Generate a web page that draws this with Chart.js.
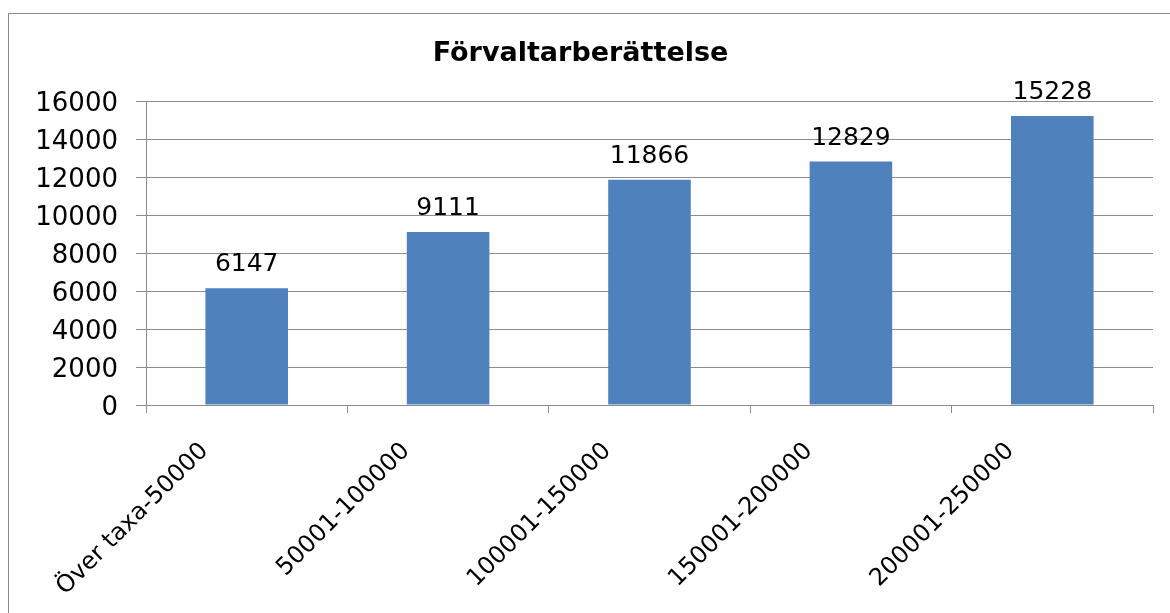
<!DOCTYPE html>
<html>
<head>
<meta charset="utf-8">
<script src="https://cdn.jsdelivr.net/npm/chart.js@4"></script>
<style>
  html, body { margin: 0; padding: 0; background: #fff; overflow: hidden; }
  #frame {
    position: absolute; left: 8px; top: 13px;
    width: 2000px; height: 2000px;
    border-left: 1px solid #8a8a8a; border-top: 1px solid #8a8a8a;
  }
  #wrap { position: absolute; left: 0; top: 0; width: 1170px; height: 613px; }
</style>
</head>
<body>
<div id="frame"></div>
<div id="wrap"><canvas id="chart" width="1170" height="613"></canvas></div>
<script>
// ===== DATA =====
const categories = ["Över taxa-50000", "50001-100000", "100001-150000", "150001-200000", "200001-250000"];
const values = [6147, 9111, 11866, 12829, 15228];
const yTicks = [0, 2000, 4000, 6000, 8000, 10000, 12000, 14000, 16000];

const FONT = "'DejaVu Sans', sans-serif";
const GRID = "#8c8c8c";

// ===== VALUE LABELS ABOVE BARS =====
const valueLabels = {
  id: "valueLabels",
  afterDatasetsDraw(chart) {
    const ctx = chart.ctx;
    const meta = chart.getDatasetMeta(0);
    ctx.save();
    ctx.font = "25px " + FONT;
    ctx.fillStyle = "#000";
    ctx.textAlign = "center";
    ctx.textBaseline = "alphabetic";
    meta.data.forEach((bar, i) => {
      ctx.fillText(String(values[i]), bar.x, bar.y - 17);
    });
    ctx.restore();
  }
};

// ===== CHART =====
const ctx = document.getElementById("chart").getContext("2d");

new Chart(ctx, {
  type: "bar",
  data: {
    labels: categories,
    datasets: [{
      data: values,
      backgroundColor: "#4F81BD",
      categoryPercentage: 1,
      barPercentage: 0.41
    }]
  },
  options: {
    responsive: false,
    animation: false,
    layout: { padding: { left: 8, right: 17, top: 13, bottom: 0 } },
    plugins: {
      legend: { display: false },
      tooltip: { enabled: false },
      title: {
        display: true,
        text: "Förvaltarberättelse",
        color: "#000",
        font: { family: FONT, size: 27, weight: "bold" },
        padding: { top: 25, bottom: 31 }
      }
    },
    scales: {
      y: {
        min: 0,
        max: 16000,
        afterBuildTicks(axis) {
          axis.ticks = yTicks.map(v => ({ value: v }));
        },
        afterFit(axis) { axis.width = 138; },
        ticks: {
          color: "#000",
          font: { family: FONT, size: 26 },
          padding: 18,
          labelOffset: 3,
          callback: v => String(v)
        },
        grid: { color: GRID, tickLength: 10, lineWidth: 1 },
        border: { color: GRID }
      },
      x: {
        afterFit(axis) { axis.height = 208; },
        ticks: {
          color: "#000",
          font: { family: FONT, size: 24 },
          maxRotation: 45,
          minRotation: 45,
          autoSkip: false,
          padding: 24,
          labelOffset: -42
        },
        grid: { offset: true, drawOnChartArea: false, color: GRID, tickLength: 8 },
        border: { color: GRID }
      }
    }
  },
  plugins: [valueLabels]
});
</script>
</body>
</html>
